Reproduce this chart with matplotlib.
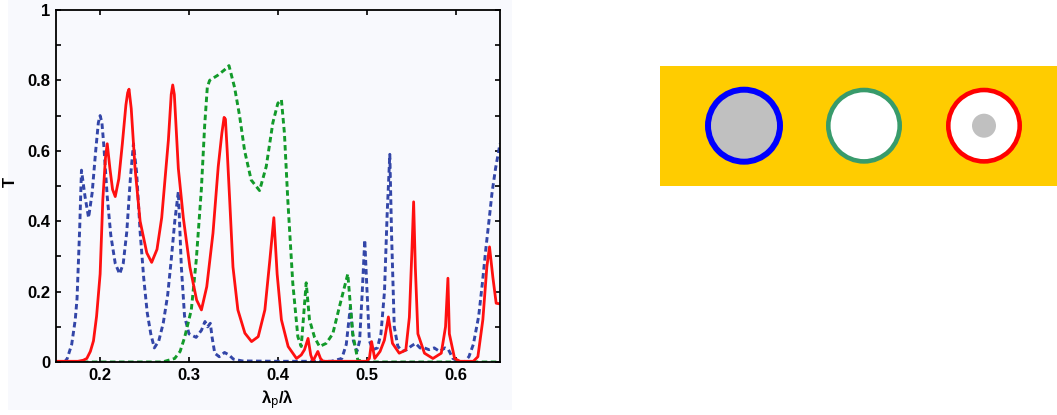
import matplotlib
matplotlib.use("Agg")
import matplotlib.pyplot as plt
from matplotlib.patches import Rectangle, Circle
from matplotlib.ticker import MultipleLocator, FuncFormatter

plt.rcParams['font.family'] = ['Liberation Sans', 'DejaVu Sans']
plt.rcParams['mathtext.default'] = 'regular'

# transmission spectra (x = lambda_p / lambda)
x_blue = [0.150, 0.160, 0.163, 0.168, 0.172, 0.174, 0.177, 0.179, 0.183, 0.187, 0.191, 0.195,
          0.198, 0.200, 0.202, 0.204, 0.208, 0.212, 0.217, 0.222, 0.226, 0.230, 0.234, 0.2375,
          0.241, 0.245, 0.249, 0.253, 0.257, 0.261, 0.266, 0.271, 0.276, 0.280, 0.284, 0.288,
          0.2914, 0.295, 0.300, 0.304, 0.308, 0.314, 0.318, 0.321, 0.324, 0.326, 0.329, 0.334,
          0.340, 0.345, 0.350, 0.360, 0.400, 0.460, 0.472, 0.477, 0.4816, 0.485, 0.489, 0.492,
          0.495, 0.4978, 0.500, 0.503, 0.507, 0.512, 0.516, 0.520, 0.523, 0.526, 0.528, 0.531,
          0.535, 0.540, 0.545, 0.550, 0.555, 0.560, 0.565, 0.570, 0.576, 0.582, 0.588, 0.592,
          0.597, 0.603, 0.610, 0.615, 0.620, 0.626, 0.630, 0.634, 0.638, 0.641, 0.645, 0.650]
T_blue = [0.0, 0.0, 0.01, 0.05, 0.12, 0.18, 0.38, 0.545, 0.47, 0.41, 0.48, 0.60,
          0.68, 0.70, 0.68, 0.62, 0.47, 0.36, 0.28, 0.25, 0.28, 0.37, 0.52, 0.62,
          0.54, 0.37, 0.24, 0.14, 0.08, 0.04, 0.06, 0.11, 0.19, 0.29, 0.40, 0.484,
          0.27, 0.13, 0.08, 0.075, 0.07, 0.09, 0.115, 0.10, 0.11, 0.07, 0.025, 0.015,
          0.027, 0.02, 0.008, 0.003, 0.002, 0.002, 0.01, 0.05, 0.157, 0.06, 0.03, 0.06,
          0.20, 0.347, 0.22, 0.06, 0.035, 0.04, 0.08, 0.20, 0.42, 0.59, 0.36, 0.10,
          0.045, 0.03, 0.035, 0.045, 0.053, 0.04, 0.04, 0.035, 0.04, 0.03, 0.04, 0.035,
          0.01, 0.002, 0.0, 0.015, 0.05, 0.13, 0.22, 0.32, 0.41, 0.48, 0.55, 0.62]

x_green = [0.150, 0.270, 0.2839, 0.290, 0.2951, 0.3026, 0.3082, 0.3139, 0.3176, 0.3206, 0.3232,
           0.3326, 0.340, 0.345, 0.3513, 0.3569, 0.3626, 0.370, 0.3794, 0.3869, 0.3944, 0.400,
           0.404, 0.4074, 0.4112, 0.4168, 0.4225, 0.4263, 0.4319, 0.4356, 0.4413, 0.4469,
           0.4544, 0.4618, 0.4693, 0.4787, 0.4843, 0.490, 0.500, 0.650]
T_green = [0.0, 0.0, 0.01, 0.03, 0.07, 0.148, 0.29, 0.49, 0.67, 0.78, 0.80,
           0.815, 0.83, 0.842, 0.78, 0.70, 0.60, 0.517, 0.487, 0.555, 0.68, 0.735,
           0.745, 0.65, 0.46, 0.224, 0.072, 0.044, 0.225, 0.12, 0.07, 0.044,
           0.053, 0.08, 0.157, 0.25, 0.08, 0.005, 0.0, 0.0]

x_red = [0.150, 0.175, 0.181, 0.185, 0.189, 0.1925, 0.196, 0.200, 0.203, 0.206, 0.208, 0.211,
         0.214, 0.217, 0.221, 0.225, 0.229, 0.231, 0.2325, 0.235, 0.2393, 0.245, 0.2525, 0.258,
         0.264, 0.2693, 0.2768, 0.280, 0.2817, 0.2835, 0.288, 0.2936, 0.301, 0.3086, 0.314,
         0.320, 0.327, 0.3329, 0.337, 0.3395, 0.341, 0.343, 0.3458, 0.3495, 0.355, 0.3629,
         0.3704, 0.3779, 0.3854, 0.391, 0.3955, 0.3992, 0.404, 0.4116, 0.421, 0.4263, 0.430,
         0.434, 0.437, 0.4395, 0.442, 0.445, 0.448, 0.4508, 0.500, 0.503, 0.5055, 0.509,
         0.515, 0.5199, 0.5244, 0.529, 0.5366, 0.544, 0.548, 0.5509, 0.5528, 0.5547, 0.5576,
         0.565, 0.5745, 0.5839, 0.5887, 0.5914, 0.593, 0.5989, 0.605, 0.620, 0.6251, 0.6307,
         0.6352, 0.6382, 0.642, 0.6457, 0.650]
T_red = [0.002, 0.002, 0.005, 0.01, 0.03, 0.06, 0.13, 0.25, 0.46, 0.58, 0.62, 0.55,
         0.49, 0.47, 0.52, 0.62, 0.73, 0.765, 0.775, 0.72, 0.55, 0.40, 0.31, 0.283,
         0.32, 0.41, 0.63, 0.76, 0.787, 0.76, 0.55, 0.41, 0.27, 0.176, 0.148,
         0.214, 0.366, 0.555, 0.65, 0.695, 0.69, 0.60, 0.46, 0.27, 0.148, 0.082,
         0.058, 0.072, 0.148, 0.29, 0.41, 0.25, 0.12, 0.044, 0.01, 0.02, 0.035,
         0.067, 0.02, 0.002, 0.015, 0.03, 0.01, 0.002, 0.002, 0.01, 0.058, 0.01,
         0.03, 0.062, 0.128, 0.053, 0.025, 0.034, 0.127, 0.318, 0.455, 0.27, 0.08,
         0.025, 0.01, 0.025, 0.1, 0.238, 0.08, 0.01, 0.002, 0.002, 0.015, 0.12,
         0.27, 0.327, 0.24, 0.167, 0.165]

fig = plt.figure(figsize=(10.57, 4.15), dpi=100)
fig.patches.append(Rectangle((8/1057, 5/415), 504/1057, 410/415, transform=fig.transFigure,
                             facecolor='#f8f9fd', edgecolor='none', zorder=-10))

ax = fig.add_axes([55.7/1057, 1-362/415, 444.3/1057, 352/415])
ax.set_facecolor('#f8f9fd')
ax.plot(x_blue, T_blue, color='#3346a8', lw=2.1, ls=(0, (1.9, 1.2)))
ax.plot(x_green, T_green, color='#129a2a', lw=2.1, ls=(0, (1.9, 1.2)))
ax.plot(x_red, T_red, color='#ff1010', lw=2.0)

ax.set_xlim(0.15, 0.65)
ax.set_ylim(0, 1)
ax.xaxis.set_major_locator(MultipleLocator(0.1))
ax.yaxis.set_major_locator(MultipleLocator(0.2))
ax.yaxis.set_minor_locator(MultipleLocator(0.1))
ax.yaxis.set_major_formatter(FuncFormatter(lambda v, p: '%g' % round(v, 1)))
ax.xaxis.set_major_formatter(FuncFormatter(lambda v, p: '%g' % round(v, 1)))
ax.tick_params(which='both', direction='in', top=True, right=True, length=3.5, width=1.2,
               labelsize=12, pad=4)
for lab in ax.get_xticklabels() + ax.get_yticklabels():
    lab.set_fontweight('bold')
for s in ax.spines.values():
    s.set_linewidth(1.3)
ax.set_xlabel(r'λ$_{\rm p}$/λ', fontsize=12, fontweight='bold')
ax.set_ylabel('T', fontsize=12, fontweight='bold')
ax.xaxis.set_label_coords(0.5, -0.075)
ax.yaxis.set_label_coords(-0.085, 0.51)

# schematic of the three cylinders
ax2 = fig.add_axes([660/1057, 1-186/415, 397/1057, 120/415])
ax2.set_xlim(0, 397)
ax2.set_ylim(0, 120)
ax2.axis('off')
ax2.add_patch(Rectangle((0, 0), 397, 120, facecolor='#ffcc00', edgecolor='none'))
ax2.add_patch(Circle((84, 60.3), 36, facecolor='#c0c0c0', edgecolor='#0000ff', lw=4.3))
ax2.add_patch(Circle((204, 60.3), 35.7, facecolor='white', edgecolor='#389b6b', lw=3.3))
ax2.add_patch(Circle((324, 60.3), 35.7, facecolor='white', edgecolor='#ff0000', lw=3.3))
ax2.add_patch(Circle((324, 60.3), 12, facecolor='#c0c0c0', edgecolor='none'))

fig.savefig('out.png', dpi=100)
